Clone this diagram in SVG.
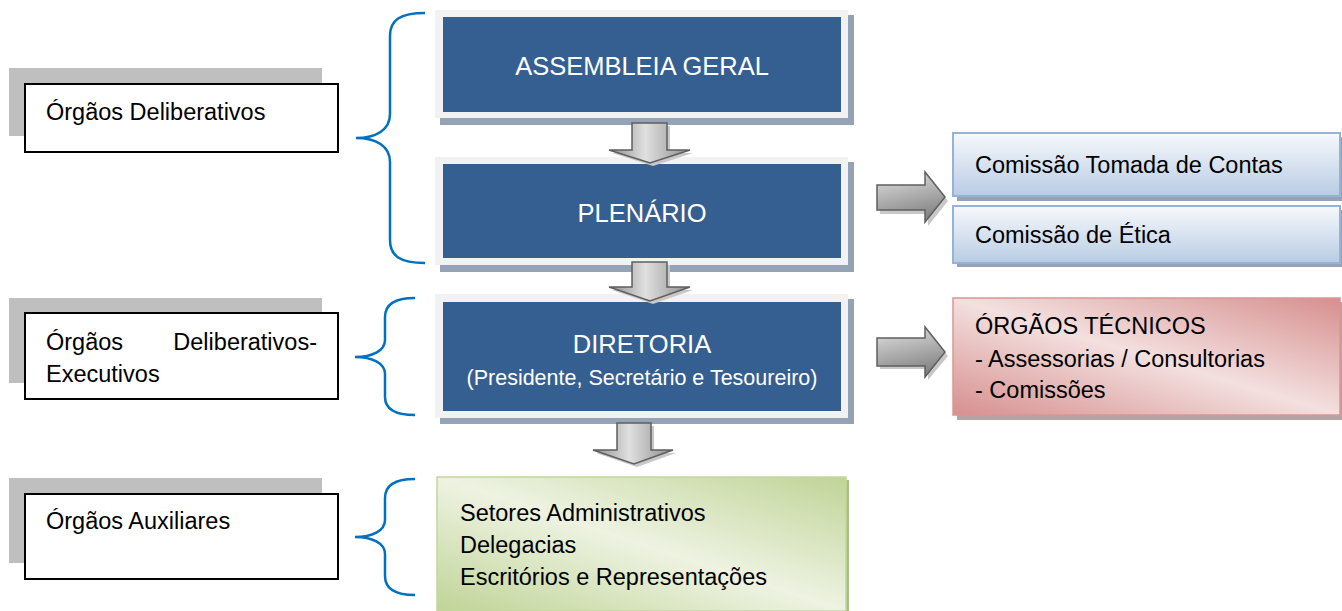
<svg xmlns="http://www.w3.org/2000/svg" width="1342" height="611" viewBox="0 0 1342 611">
<style>
text{font-family:"Liberation Sans",Arial,sans-serif;fill:#000;}
.body{font-size:23.5px;}
.title{font-size:25.5px;fill:#fff;}
.sub{font-size:21.5px;fill:#fff;}
.lshadow{fill:#bfbfbf;}
.lbox{fill:#fff;stroke:#000;stroke-width:2;}
.bshadow{fill:#95a3b6;}
.bframe{fill:#f2f2f2;}
.bfill{fill:#365f91;}
.brace{fill:none;stroke:#0070c0;stroke-width:2.5;}
.arr{stroke:#5f5f5f;stroke-width:1.5;stroke-linejoin:miter;}
.arrsh{fill:#c8c8c8;}
</style>
<defs>
<linearGradient id="gBlue" x1="0" y1="0" x2="0" y2="1">
<stop offset="0" stop-color="#f7f9fc"/>
<stop offset="1" stop-color="#b8cce4"/>
</linearGradient>
<linearGradient id="gRed" x1="1" y1="0" x2="0" y2="1">
<stop offset="0" stop-color="#d68f8e"/>
<stop offset="0.5" stop-color="#f3e0df"/>
<stop offset="1" stop-color="#d68f8e"/>
</linearGradient>
<linearGradient id="gGreen" x1="1" y1="0" x2="0" y2="1">
<stop offset="0" stop-color="#c0d497"/>
<stop offset="0.5" stop-color="#eef3e2"/>
<stop offset="1" stop-color="#c0d497"/>
</linearGradient>
<linearGradient id="gArrV" x1="0" y1="0" x2="1" y2="0">
<stop offset="0" stop-color="#8c8c8c"/>
<stop offset="0.45" stop-color="#e0e0e0"/>
<stop offset="1" stop-color="#8c8c8c"/>
</linearGradient>
<linearGradient id="gArrH" x1="0" y1="0" x2="0.3" y2="1">
<stop offset="0" stop-color="#e3e3e3"/>
<stop offset="1" stop-color="#858585"/>
</linearGradient>
</defs>

<!-- Left category boxes -->
<g id="orgaos-deliberativos">
<rect class="lshadow" x="9" y="68" width="313" height="68"/>
<rect class="lbox" x="25" y="84" width="313" height="68"/>
<text class="body" x="46" y="120">Órgãos Deliberativos</text>
</g>
<g id="orgaos-deliberativos-executivos">
<rect class="lshadow" x="9" y="298" width="313" height="85"/>
<rect class="lbox" x="25" y="313" width="313" height="86"/>
<text class="body" x="46" y="350">Órgãos</text>
<text class="body" x="317" y="350" text-anchor="end">Deliberativos-</text>
<text class="body" x="46" y="382">Executivos</text>
</g>
<g id="orgaos-auxiliares">
<rect class="lshadow" x="9" y="478" width="313" height="85"/>
<rect class="lbox" x="25" y="494" width="313" height="85"/>
<text class="body" x="46" y="529">Órgãos Auxiliares</text>
</g>

<!-- Central blue boxes -->
<g id="assembleia-geral">
<rect class="bshadow" x="440" y="15" width="414" height="110"/>
<rect class="bframe" x="435" y="10" width="413" height="108"/>
<rect class="bfill" x="443" y="17" width="398" height="95"/>
<text class="title" x="642" y="75" text-anchor="middle">ASSEMBLEIA GERAL</text>
</g>
<g id="plenario">
<rect class="bshadow" x="440" y="162" width="414" height="110"/>
<rect class="bframe" x="435" y="157" width="413" height="108"/>
<rect class="bfill" x="443" y="164" width="398" height="94"/>
<text class="title" x="642" y="222" text-anchor="middle">PLENÁRIO</text>
</g>
<g id="diretoria">
<rect class="bshadow" x="440" y="299" width="414" height="125"/>
<rect class="bframe" x="435" y="294" width="413" height="124"/>
<rect class="bfill" x="443" y="302" width="398" height="109"/>
<text class="title" x="642" y="353" text-anchor="middle">DIRETORIA</text>
<text class="sub" x="642" y="385" text-anchor="middle">(Presidente, Secretário e Tesoureiro)</text>
</g>

<!-- Green box -->
<g id="setores">
<rect x="441" y="480" width="408" height="135" fill="#a9bf7d"/>
<rect x="437" y="477" width="409" height="134" fill="url(#gGreen)" stroke="#c3d69b" stroke-width="1.5"/>
<text class="body" x="460" y="521">Setores Administrativos</text>
<text class="body" x="460" y="553">Delegacias</text>
<text class="body" x="460" y="585">Escritórios e Representações</text>
</g>

<!-- Right boxes -->
<g id="comissao-tomada-contas">
<rect x="957" y="137" width="390" height="64" fill="#95a3b6"/>
<rect x="953" y="133" width="387" height="63" fill="url(#gBlue)" stroke="#95b3d7" stroke-width="2"/>
<text class="body" x="975" y="173">Comissão Tomada de Contas</text>
</g>
<g id="comissao-etica">
<rect x="957" y="210" width="390" height="57" fill="#95a3b6"/>
<rect x="953" y="206" width="387" height="57" fill="url(#gBlue)" stroke="#95b3d7" stroke-width="2"/>
<text class="body" x="975" y="243">Comissão de Ética</text>
</g>
<g id="orgaos-tecnicos">
<rect x="957" y="302" width="390" height="118" fill="#b7a3a3"/>
<rect x="953" y="298" width="387" height="117" fill="url(#gRed)" stroke="#d99694" stroke-width="1.5"/>
<text class="body" x="975" y="334">ÓRGÃOS TÉCNICOS</text>
<text class="body" x="975" y="367">- Assessorias / Consultorias</text>
<text class="body" x="975" y="398">- Comissões</text>
</g>

<!-- Connectors -->
<g id="connectors">
<path class="brace" d="M 425 13 C 400 13 390 20 390 36 L 390 114 C 390 130 376 138 356 138 C 376 138 390 146 390 162 L 390 240 C 390 256 400 263 425 263"/>
<path class="brace" d="M 415 298 C 395 298 385 304 385 317 L 385 340 C 385 351 372 357 355 357 C 372 357 385 363 385 374 L 385 397 C 385 409 395 415 415 415"/>
<path class="brace" d="M 415 479 C 395 479 385 485 385 498 L 385 520 C 385 531 372 537 355 537 C 372 537 385 543 385 554 L 385 576 C 385 589 395 595 415 595"/>

<path class="arrsh" d="M 635 126 L 670 126 L 670 153 L 693 153 L 653 166 L 612 153 L 635 153 Z"/>
<path class="arr" fill="url(#gArrV)" d="M 632 123 L 667 123 L 667 150 L 690 150 L 650 163 L 609 150 L 632 150 Z"/>
<path class="arrsh" d="M 635 265 L 670 265 L 670 290 L 693 290 L 653 304 L 612 290 L 635 290 Z"/>
<path class="arr" fill="url(#gArrV)" d="M 632 262 L 667 262 L 667 287 L 690 287 L 650 301 L 609 287 L 632 287 Z"/>
<path class="arrsh" d="M 620 426 L 654 426 L 654 453 L 676 453 L 637 467 L 596 453 L 620 453 Z"/>
<path class="arr" fill="url(#gArrV)" d="M 617 423 L 651 423 L 651 450 L 673 450 L 634 464 L 593 450 L 617 450 Z"/>

<path class="arrsh" d="M 880 189 L 928 189 L 928 176 L 948 201 L 928 226 L 928 214 L 880 214 Z"/>
<path class="arr" fill="url(#gArrH)" d="M 877 185 L 925 185 L 925 172 L 945 197 L 925 222 L 925 210 L 877 210 Z"/>
<path class="arrsh" d="M 880 341 L 928 341 L 928 330 L 948 356 L 928 380 L 928 369 L 880 369 Z"/>
<path class="arr" fill="url(#gArrH)" d="M 877 338 L 925 338 L 925 327 L 945 352 L 925 377 L 925 366 L 877 366 Z"/>
</g>
</svg>
